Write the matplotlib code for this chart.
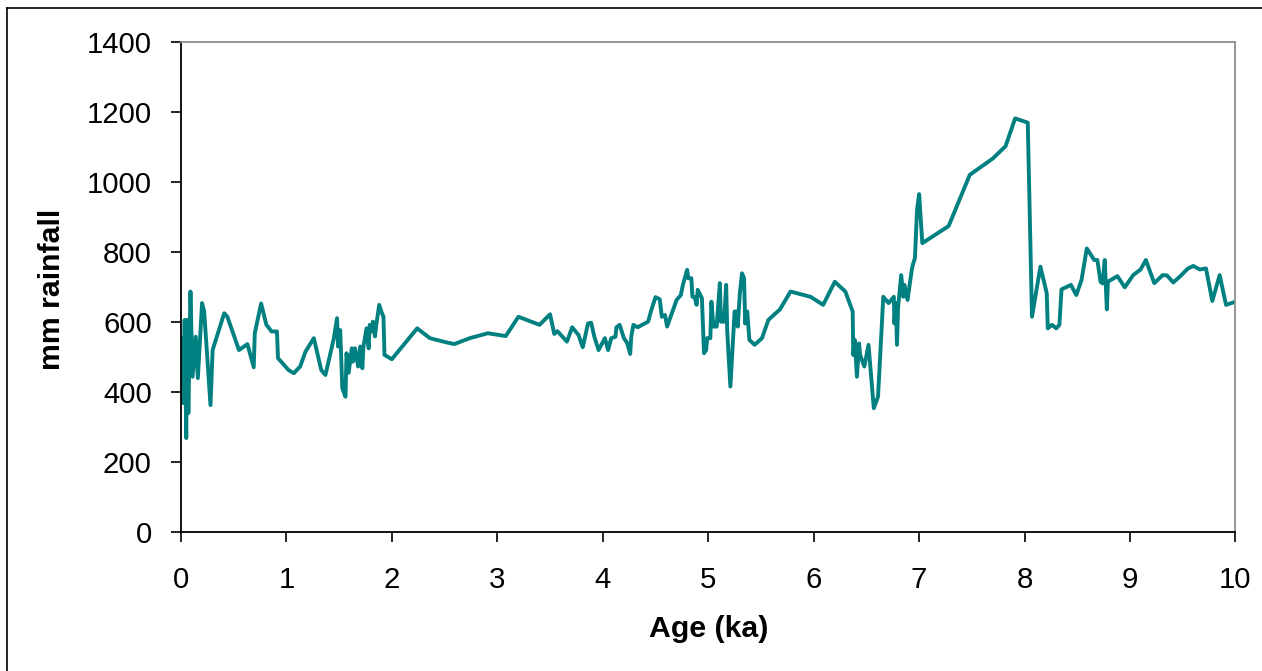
import matplotlib
matplotlib.use("Agg")
import matplotlib.pyplot as plt
from matplotlib.lines import Line2D

plt.rcParams['font.family'] = ['Liberation Sans', 'DejaVu Sans']

# rainfall reconstruction, age in ka
age = [0.01, 0.02, 0.035, 0.05, 0.06, 0.07, 0.09, 0.11, 0.14, 0.16,
       0.20, 0.22, 0.28, 0.30, 0.41, 0.44, 0.55, 0.63, 0.69, 0.70,
       0.76, 0.81, 0.86, 0.91, 0.92, 1.02, 1.07, 1.13, 1.18, 1.26,
       1.33, 1.37, 1.45, 1.48, 1.49, 1.51, 1.53, 1.56, 1.57, 1.59,
       1.62, 1.63, 1.65, 1.68, 1.70, 1.72, 1.73, 1.76, 1.78, 1.79,
       1.81, 1.82, 1.84, 1.85, 1.88, 1.90, 1.92, 1.93, 2.00, 2.24,
       2.36, 2.49, 2.59, 2.74, 2.91, 3.08, 3.20, 3.40, 3.50, 3.54,
       3.57, 3.66, 3.71, 3.77, 3.81, 3.86, 3.89, 3.92, 3.96, 4.02,
       4.05, 4.08, 4.12, 4.13, 4.16, 4.20, 4.23, 4.26, 4.27, 4.29,
       4.33, 4.43, 4.46, 4.50, 4.54, 4.56, 4.59, 4.61, 4.70, 4.74,
       4.76, 4.80, 4.81, 4.84, 4.85, 4.87, 4.89, 4.90, 4.94, 4.96,
       4.98, 4.99, 5.02, 5.03, 5.05, 5.08, 5.11, 5.12, 5.15, 5.17,
       5.18, 5.19, 5.21, 5.22, 5.25, 5.27, 5.28, 5.30, 5.32, 5.34,
       5.35, 5.37, 5.39, 5.44, 5.51, 5.57, 5.68, 5.78, 5.97, 6.09,
       6.20, 6.30, 6.37, 6.375, 6.39, 6.41, 6.43, 6.44, 6.48, 6.52,
       6.57, 6.61, 6.66, 6.71, 6.76, 6.765, 6.78, 6.79, 6.80, 6.83,
       6.85, 6.86, 6.89, 6.93, 6.94, 6.96, 6.98, 7.00, 7.03, 7.28,
       7.48, 7.70, 7.82, 7.91, 8.03, 8.07, 8.15, 8.21, 8.22, 8.26,
       8.30, 8.33, 8.35, 8.44, 8.49, 8.54, 8.59, 8.66, 8.69, 8.72,
       8.74, 8.76, 8.78, 8.79, 8.88, 8.95, 9.03, 9.10, 9.15, 9.23,
       9.31, 9.35, 9.41, 9.47, 9.55, 9.60, 9.66, 9.72, 9.78, 9.85,
       9.91, 10.0]
rain = [553, 369, 606, 269, 606, 340, 687, 444, 558, 440,
        654, 630, 363, 520, 625, 615, 520, 537, 471, 568,
        653, 592, 573, 573, 497, 463, 454, 473, 515, 554,
        463, 449, 554, 611, 530, 577, 411, 387, 511, 455,
        525, 487, 525, 473, 530, 468, 530, 582, 525, 592,
        573, 601, 559, 587, 649, 630, 615, 506, 494, 582,
        554, 544, 537, 554, 568, 560, 615, 592, 622, 566,
        574, 544, 585, 563, 528, 596, 598, 558, 520, 554,
        520, 554, 558, 585, 592, 554, 541, 509, 558, 592,
        585, 601, 634, 671, 665, 615, 620, 587, 663, 677,
        706, 749, 725, 725, 672, 672, 649, 692, 668, 511,
        520, 554, 554, 658, 587, 587, 711, 601, 601, 706,
        577, 520, 416, 470, 630, 630, 587, 682, 739, 725,
        596, 630, 549, 535, 554, 606, 636, 687, 672, 649,
        715, 687, 630, 506, 549, 444, 539, 506, 473, 535,
        354, 387, 672, 654, 672, 596, 654, 535, 640, 734,
        672, 706, 663, 749, 763, 782, 920, 965, 825, 874,
        1020, 1067, 1102, 1181, 1169, 615, 758, 682, 582, 592,
        582, 592, 693, 706, 677, 720, 810, 777, 777, 715,
        710, 777, 636, 715, 731, 699, 734, 750, 777, 711,
        734, 733, 713, 729, 753, 760, 750, 753, 660, 734,
        649, 658]

xticks = list(range(0, 11))
yticks = list(range(0, 1401, 200))

fig = plt.figure(figsize=(12.62, 6.71), dpi=100)
ax = fig.add_axes([0.1434, 0.2067, 0.8356, 0.7312])

ax.plot(age, rain, color='#008080', linewidth=2.8)

ax.set_xlim(0, 10)
ax.set_ylim(0, 1400)
ax.set_xticks(xticks)
ax.set_yticks(yticks)
ax.tick_params(direction='out', length=7, width=1.2, labelsize=21.2,
               colors='black')
ax.tick_params(axis='x', pad=17)
ax.tick_params(axis='y', pad=14)

for side in ['left', 'bottom']:
    ax.spines[side].set_color('black')
    ax.spines[side].set_linewidth(1.3)
for side in ['top', 'right']:
    ax.spines[side].set_color('#8c8c8c')
    ax.spines[side].set_linewidth(1.3)

ax.set_xlabel('Age (ka)', fontsize=21.8, fontweight='bold', va='center')
ax.set_ylabel('mm rainfall', fontsize=21.8, fontweight='bold', va='center')
ax.xaxis.set_label_coords(0.5, -0.198)
ax.yaxis.set_label_coords(-0.122, 0.495)

# outer chart frame (runs off the right and bottom edge)
W, H = 1262, 671
fig.add_artist(Line2D([7 / W, 1.01], [1 - 8 / H, 1 - 8 / H], color='black',
                      linewidth=1.2, transform=fig.transFigure))
fig.add_artist(Line2D([7 / W, 7 / W], [1 - 8 / H, -0.01], color='black',
                      linewidth=1.2, transform=fig.transFigure))

fig.savefig('out.png', dpi=100)
